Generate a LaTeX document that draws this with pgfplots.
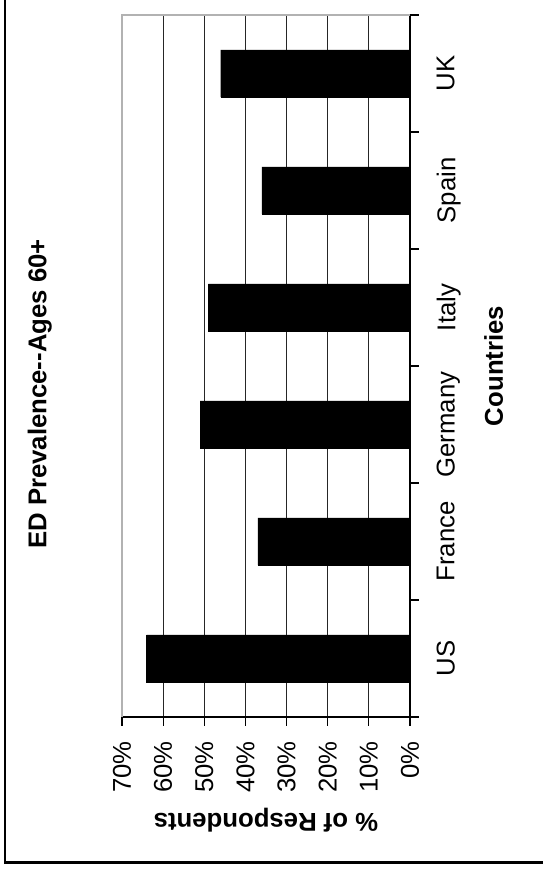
\documentclass[border=0pt]{standalone}
\usepackage{fontspec}
\setmainfont{Liberation Sans}
\usepackage{pgfplots}
\pgfplotsset{compat=1.18}
\newcommand{\lblfont}{\fontsize{19.3}{23}\selectfont}
\begin{document}
\begin{tikzpicture}
\begin{axis}[
  scale only axis,
  width=216pt, height=526.5pt,
  xbar, bar width=0.405,
  x dir=reverse,
  xmin=0, xmax=70,
  ymin=-0.5, ymax=5.5,
  axis x line*=bottom,
  axis y line*=right,
  axis line style={-, black, line width=0.9pt},
  xtick={0,10,...,70},
  xticklabels={0\%,10\%,20\%,30\%,40\%,50\%,60\%,70\%},
  xticklabel style={rotate=90, anchor=east, font=\lblfont},
  xticklabel shift=8pt,
  ytick={-0.5,0.5,...,5.5},
  yticklabels={},
  extra y ticks={0,1,2,3,4,5},
  extra y tick labels={US,France,Germany,Italy,Spain,UK},
  extra y tick style={major tick length=0pt, yticklabel style={xshift=16.5pt, rotate=90, anchor=north, font=\lblfont}},
  tick align=outside,
  major tick length=6.75pt,
  tick style={black, line width=0.9pt},
  xmajorgrids,
  major grid style={black!85, line width=0.8pt},
  clip=false,
]
\addplot[fill=black, draw=black, line width=0.3pt] coordinates {(64,0) (37,1) (51,2) (49,3) (36,4) (46,5)};
\draw[gray!60, line width=1.3pt] (axis cs:70,-0.5) -- (axis cs:70,5.5) -- (axis cs:0,5.5);
\draw[black, line width=1.75pt] (axis cs:98.44,5.628) -- (axis cs:98.44,-1.744) -- (axis cs:-32.33,-1.744);
\node[rotate=90, anchor=base, font=\bfseries\lblfont] at (axis cs:88.35,2.261) {ED Prevalence-\kern0pt-Ages 60+};
\node[rotate=90, anchor=base, font=\bfseries\lblfont] at (axis cs:-22.6,2.5) {Countries};
\node[rotate=180, anchor=center, font=\bfseries\lblfont] at (axis cs:35,-1.38) {\% of Respondents};
\coordinate (bbA) at (axis cs:99.65,5.628);
\coordinate (bbB) at (axis cs:-32.33,-1.808);
\end{axis}
\pgfresetboundingbox
\path[use as bounding box] (bbA) rectangle (bbB);
\end{tikzpicture}
\end{document}
